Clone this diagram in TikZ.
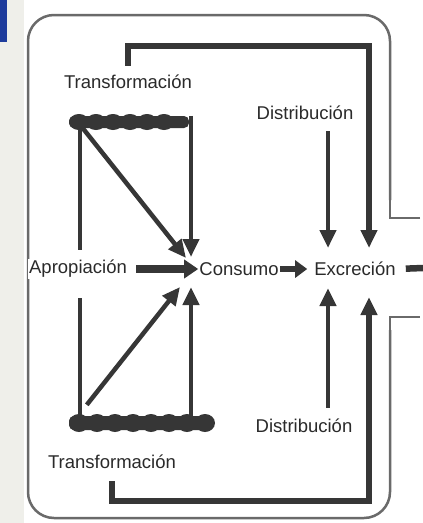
\documentclass[tikz,border=0pt]{standalone}
\usepackage{fontspec}
\setmainfont{Liberation Sans}
\usetikzlibrary{arrows.meta}
\definecolor{ink}{HTML}{363636}
\definecolor{txt}{HTML}{2A2A2A}
\definecolor{boxc}{HTML}{6A6A6A}
\definecolor{blueb}{HTML}{1E3C9C}
\definecolor{side}{HTML}{EFEFEA}
\begin{document}
\begin{tikzpicture}[x=1pt,y=-1pt,
  lbl/.style={font=\fontsize{18.5}{20}\selectfont, text=txt, inner sep=1pt},
  ln/.style={draw=ink, line width=4.5pt},
  arr/.style={ln, -{Triangle[width=16pt,length=18pt]}},
  barb/.style={fill=ink, draw=none, inner sep=0pt, rounded corners=5pt},
  outer/.style={draw=boxc, line width=2.5pt}]
\useasboundingbox (0,0) rectangle (423,523);
\fill[white] (0,0) rectangle (423,523);
\fill[side] (0,0) rectangle (24,523);
\fill[blueb] (0,0) rectangle (7,42);
% outer frame
\draw[outer] (420,218) -- (390,218) -- (390,190);
\draw[outer, rounded corners=26pt] (390,200) -- (390,15) -- (28,15) -- (28,518) -- (390,518) -- (390,330);
\draw[outer] (390,340) -- (390,317) -- (420,317);
% labels
\node[lbl] (transT) at (128,82) {Transformación};
\node[lbl] (distT) at (305,113) {Distribución};
\node[lbl, fill=white] (apro) at (78,269) {Apropiación};
\node[lbl] (cons) at (239,269) {Consumo};
\node[lbl] (excr) at (355,269) {Excreción};
\node[lbl] (distB) at (304,426) {Distribución};
\node[lbl] (transB) at (112,462) {Transformación};
% bars
\node[barb, minimum width=120pt, minimum height=12pt] (barT) at (129,122) {};
\foreach \x in {79,96,...,180} \fill[ink] (\x,122) ellipse (10pt and 8pt);
\node[barb, minimum width=142pt, minimum height=14pt] (barB) at (140,423) {};
\foreach \x in {79,97,...,206} \fill[ink] (\x,423) ellipse (10pt and 9pt);
% coordinates
\coordinate (lvT) at (80,250);
\coordinate (lvB) at (80,298);
\coordinate (cTd) at (186,258);
\coordinate (cTv) at (191,257);
\coordinate (cBd) at (180,287);
\coordinate (cBv) at (191,287);
\coordinate (eTd) at (328,248);
\coordinate (eBd) at (328,288);
\coordinate (eTb) at (369,248);
\coordinate (eBb) at (369,297);
\coordinate (exitR) at (423,268);
% transformation links
\draw[ln] (barT.south west -| lvT) -- (lvT);
\draw[ln] (lvB) -- (lvB |- barB.north);
\draw[arr] ([xshift=14pt]barT.south west) -- (cTd);
\draw[arr] (cTv |- barT.north) -- (cTv);
\draw[arr] ([xshift=18pt,yshift=11pt]barB.north west) -- (cBd);
\draw[arr] (cBv |- barB.north) -- (cBv);
% main chain
\draw[ln, line width=7.5pt, -{Triangle[width=18pt,length=14pt]}, shorten <=8pt] (apro.east) -- (cons.west);
\draw[ln, line width=6.5pt, -{Triangle[width=17pt,length=12pt]}, shorten >=6pt] (cons.east) -- (excr.west);
\draw[ln, line width=6.5pt, shorten <=9pt] (excr.east) -- (exitR);
% distribution
\draw[arr, shorten <=10pt] (distT.south -| eTd) -- (eTd);
\draw[arr, shorten <=10pt] (distB.north -| eBd) -- (eBd);
% feedback brackets
\draw[arr, line width=5.5pt] ([yshift=8pt]transT.north) -- ++(0,-20) -| (eTb);
\draw[arr, line width=5.5pt] ([yshift=-11pt]transB.south) -- ++(0,20) -| (eBb);
\end{tikzpicture}
\end{document}
